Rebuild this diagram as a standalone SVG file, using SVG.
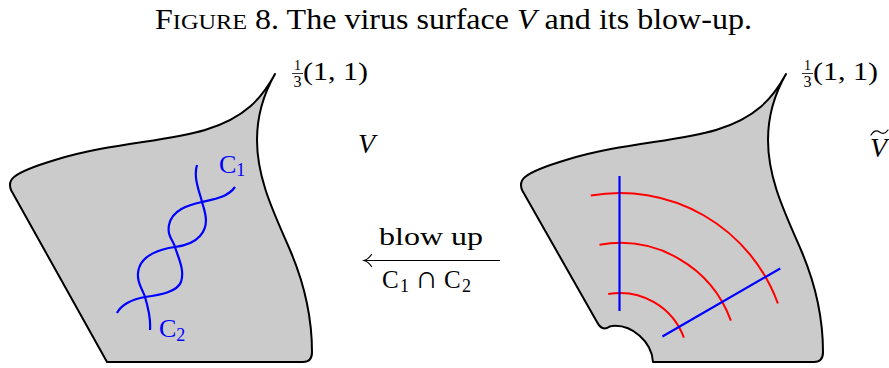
<svg xmlns="http://www.w3.org/2000/svg" width="889" height="368" viewBox="0 0 889 368">
<style>
  .surf { fill:#cbcbcb; stroke:#000; stroke-width:2; stroke-linejoin:round; }
  .blue { fill:none; stroke:#0000ff; stroke-width:2.2; stroke-linecap:butt; }
  .red { fill:none; stroke:#ff0000; stroke-width:2; }
  .ink { fill:none; stroke:#000; stroke-width:1.2; stroke-linecap:round; }
  text { font-family:"Liberation Serif", "Times New Roman", serif; fill:#000; }
  .bl { fill:#0000ff; }
  .it { font-style:italic; }
</style>
<rect width="889" height="368" fill="#fff"/>

<text x="155" y="29" font-size="29" textLength="597" lengthAdjust="spacingAndGlyphs">F<tspan font-size="22">IGURE</tspan> 8.  The virus surface <tspan class="it">V</tspan> and its blow-up.</text>

<g id="surface-V">
  <path class="surf" d="M275,74 C262,98 245,118 205,130 C165,142 110,143 55,160 C35,166 20,172 14,177 Q8,182 11,190 L107,362 L303,362 Q312,362 312,352 C312,320 305,285 290,250 C275,215 257,180 257,140 C257,115 263,95 275,74 Z"/>
  <path class="blue" d="M197,165 C193,178 200,193 202,202 C205,212 210,225 200,236 C193,244 183,246 175,247 C160,249 143,255 139,268 C135,280 143,290 145,297 C148,307 151,318 150,330"/>
  <path class="blue" d="M235,187 C228,197 215,199 202,202 C188,205 172,210 169,225 C167,236 173,240 175,247 C178,257 185,270 181,282 C177,292 160,295 145,297 C132,299 121,305 117,313"/>
  <text class="bl" x="219" y="173" font-size="26">C<tspan font-size="18" dy="3">1</tspan></text>
  <text class="bl" x="159" y="337" font-size="26">C<tspan font-size="18" dy="4">2</tspan></text>
  <text x="297.5" y="70" font-size="14" text-anchor="middle">1</text>
  <line x1="292" y1="73.5" x2="303" y2="73.5" stroke="#000" stroke-width="0.8"/>
  <text x="297.5" y="87" font-size="16" text-anchor="middle">3</text>
  <text x="303" y="80" font-size="26" textLength="65" lengthAdjust="spacingAndGlyphs">(1, 1)</text>
  <text class="it" x="358" y="153" font-size="28">V</text>
</g>

<g id="surface-Vtilde">
  <path class="surf" d="M786,74 C773,98 756,118 716,130 C676,142 621,143 566,160 C546,166 531,172 525,177 Q519,182 522,190 L597,322 Q601,330 607,328 Q610,326 612,326 C632,324 652,342 653,362 L814,362 Q823,362 823,352 C823,320 816,285 801,250 C786,215 768,180 768,140 C768,115 774,95 786,74 Z"/>
  <path class="red" d="M590.8,195.6 A168,168 0 0 1 777.9,303.5"/>
  <path class="red" d="M599.5,244.8 A118,118 0 0 1 730.9,320.6"/>
  <path class="red" d="M608.2,294 A68,68 0 0 1 683.9,337.7"/>
  <line class="blue" x1="619.5" y1="176" x2="619.5" y2="311"/>
  <line class="blue" x1="662.4" y1="336.5" x2="780.2" y2="268.5"/>
  <text x="807.5" y="70" font-size="14" text-anchor="middle">1</text>
  <line x1="802" y1="73.5" x2="813" y2="73.5" stroke="#000" stroke-width="0.8"/>
  <text x="807.5" y="87" font-size="16" text-anchor="middle">3</text>
  <text x="813" y="80" font-size="26" textLength="65" lengthAdjust="spacingAndGlyphs">(1, 1)</text>
  <text class="it" x="870" y="157" font-size="28">V</text>
  <path class="ink" d="M871,135 Q875,129 879.5,132 Q884,135.5 888,130"/>
</g>

<g id="connectors">
  <line x1="364" y1="260.5" x2="500" y2="260.5" stroke="#000" stroke-width="1.2"/>
  <path class="ink" d="M371.5,254.5 C369.5,257.5 367,259.6 364,260.5 C367,261.4 369.5,263.5 371.5,266.5"/>
  <text x="379" y="245" font-size="26" textLength="104" lengthAdjust="spacingAndGlyphs">blow up</text>
  <text x="382" y="288" font-size="25">C<tspan font-size="18" x="400" y="292">1</tspan><tspan x="415" y="288" font-size="32">∩</tspan><tspan x="444" y="288">C</tspan><tspan font-size="18" x="462" y="292">2</tspan></text>
</g>
</svg>
